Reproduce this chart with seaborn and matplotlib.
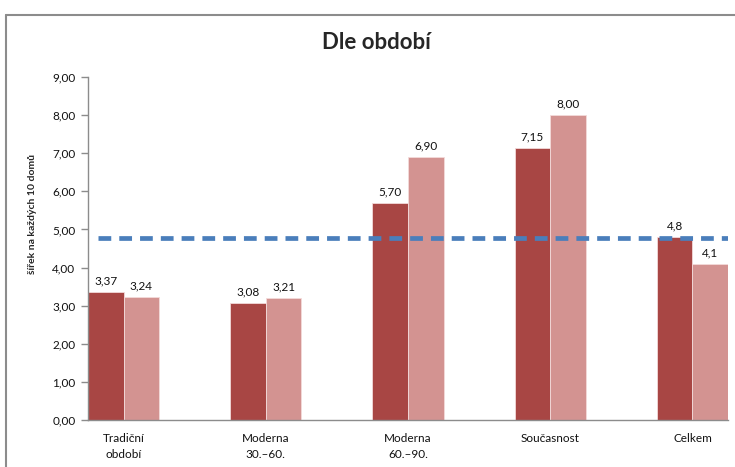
import pandas as pd
import matplotlib.pyplot as plt
import seaborn as sns
from matplotlib.lines import Line2D

# Data
obdobi = ["Tradiční\nobdobí", "Moderna\n30.–60.", "Moderna\n60.–90.", "Současnost", "Celkem"]
rada_1 = [3.37, 3.08, 5.70, 7.15, 4.8]
rada_2 = [3.24, 3.21, 6.90, 8.00, 4.1]
popisky_1 = ["3,37", "3,08", "5,70", "7,15", "4,8"]
popisky_2 = ["3,24", "3,21", "6,90", "8,00", "4,1"]
prumer = 4.78
y_ticks = [0, 1, 2, 3, 4, 5, 6, 7, 8, 9]

df = pd.DataFrame({
    "obdobi": obdobi * 2,
    "hodnota": rada_1 + rada_2,
    "rada": ["řada 1"] * len(obdobi) + ["řada 2"] * len(obdobi),
})

sns.set_style("white")
plt.rcParams["font.family"] = ["Lato", "DejaVu Sans"]

fig = plt.figure(figsize=(7.35, 4.67), dpi=100)
ax = fig.add_axes([0.1197, 0.1006, 0.8708, 0.7344])

sns.barplot(data=df, x="obdobi", y="hodnota", hue="rada", order=obdobi,
            palette=["#A84644", "#D39391"], saturation=1, width=0.5, gap=0,
            edgecolor="#F3DADA", linewidth=0.6, legend=False, ax=ax)

for cont, pop in zip(ax.containers, [popisky_1, popisky_2]):
    ax.bar_label(cont, labels=pop, padding=4, fontsize=8.5, color="#111111")

# prumerna hodnota
ax.axhline(prumer, xmin=0.016, xmax=1, color="#4A7EBB", linewidth=3.4,
           dashes=(2.7, 1.7))

ax.set_xlim(-0.25, 4.25)
ax.set_ylim(0, 9)
ax.set_yticks(y_ticks)
ax.set_yticklabels([f"{v:.2f}".replace(".", ",") for v in y_ticks], fontsize=8.5,
                   color="#111111")
ax.tick_params(axis="y", length=5, width=1, color="#8C8C8C", pad=4, left=True)
ax.tick_params(axis="x", length=0, labelsize=8.5, pad=9, labelcolor="#111111")
for t in ax.get_xticklabels():
    t.set_linespacing(1.6)
ax.set_xlabel("")
ax.set_ylabel("šířek na každých 10 domů", fontsize=7.5, fontweight="bold")
ax.yaxis.set_label_coords(-0.08, 0.6)

for s in ["top", "right"]:
    ax.spines[s].set_visible(False)
for s in ["left", "bottom"]:
    ax.spines[s].set_color("#8C8C8C")
    ax.spines[s].set_linewidth(1)

fig.text(0.512, 0.908, "Dle období", ha="center", va="center", fontsize=16,
         fontweight="bold")

# ramecek grafu
fig.add_artist(Line2D([0.0085, 1], [0.968, 0.968], transform=fig.transFigure,
                      color="#8C8C8C", linewidth=1.5))
fig.add_artist(Line2D([0.0085, 0.0085], [0, 0.968], transform=fig.transFigure,
                      color="#8C8C8C", linewidth=1.5))

plt.savefig("out.png", dpi=100)
plt.close()
